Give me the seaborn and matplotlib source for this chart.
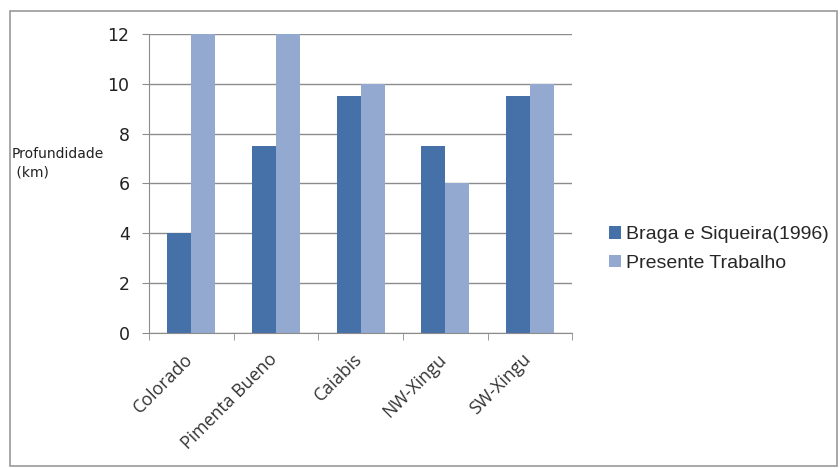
import pandas as pd
import matplotlib.pyplot as plt
import seaborn as sns
from matplotlib.patches import Rectangle
from matplotlib.transforms import ScaledTranslation

# data
regioes = ["Colorado", "Pimenta Bueno", "Caiabis", "NW-Xingu", "SW-Xingu"]
braga = [4, 7.5, 9.5, 7.5, 9.5]
presente = [12, 12, 10, 6, 10]
series = ["Braga e Siqueira(1996)", "Presente Trabalho"]

df = pd.DataFrame({
    "Regiao": regioes * 2,
    "Profundidade": braga + presente,
    "Fonte": [series[0]] * len(regioes) + [series[1]] * len(regioes),
})

sns.set_style("white")
plt.rcParams["font.family"] = ["DejaVu Sans"]

fig = plt.figure(figsize=(8.4, 4.68), dpi=100)
ax = fig.add_axes([0.1774, 0.2885, 0.504, 0.639])

sns.barplot(data=df, x="Regiao", y="Profundidade", hue="Fonte",
            palette=["#4670A8", "#93A9CF"], width=0.565, gap=0,
            saturation=1, linewidth=0, ax=ax)

ax.set_ylim(0, 12)
ax.set_xlim(-0.5, 4.5)
ax.set_yticks(range(0, 13, 2))
ax.grid(axis="y", color="#8c8c8c", linewidth=1)
ax.set_axisbelow(True)
for s in ["top", "right"]:
    ax.spines[s].set_visible(False)
for s in ["left", "bottom"]:
    ax.spines[s].set_color("#8c8c8c")

ax.set_xlabel("")
ax.set_ylabel("")
ax.tick_params(axis="y", left=True, length=5, color="#8c8c8c", pad=9,
               labelsize=12.5, labelcolor="#222222")
ax.tick_params(axis="x", bottom=False, labelsize=12.8, labelcolor="#333333", pad=9)
ax.set_xticks([i - 0.5 for i in range(6)], minor=True)
ax.tick_params(axis="x", which="minor", bottom=True, length=5, color="#8c8c8c")
shift = ScaledTranslation(-8 / 100, 0, fig.dpi_scale_trans)
for lab in ax.get_xticklabels():
    lab.set_rotation(45)
    lab.set_ha("right")
    lab.set_rotation_mode("anchor")
    lab.set_family(["Open Sans"])
    lab.set_transform(lab.get_transform() + shift)

fig.text(0.014, 0.652, "Profundidade\n (km)", fontsize=10, color="#222222",
         va="center", ha="left", linespacing=1.4)

ax.legend(loc="center left", bbox_to_anchor=(1.045, 0.28), frameon=False,
          handlelength=0.6, handleheight=0.6, handletextpad=0.3,
          labelspacing=0.6, prop={"family": "Liberation Sans", "size": 14})

fig.patches.append(Rectangle((0.012, 0.004), 0.985, 0.972, transform=fig.transFigure,
                             fill=False, edgecolor="#9a9a9a", linewidth=1.2))

plt.savefig("out.png", dpi=100)
